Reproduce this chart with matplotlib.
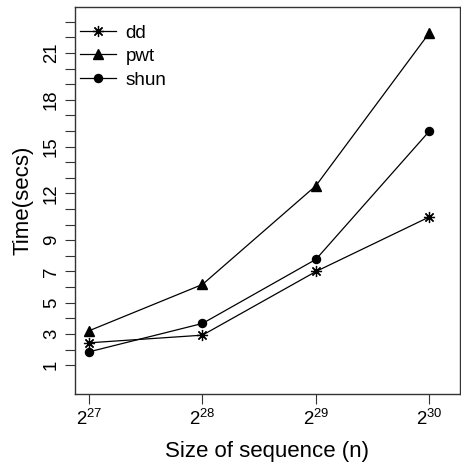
import matplotlib
matplotlib.use("Agg")
import matplotlib.pyplot as plt

plt.rcParams["font.family"] = ["Liberation Sans", "DejaVu Sans"]
plt.rcParams["mathtext.fontset"] = "custom"
plt.rcParams["mathtext.rm"] = "Liberation Sans"
plt.rcParams["mathtext.it"] = "Liberation Sans"

# dados
x_pow = [27, 28, 29, 30]
x_labels = [r"$2^{27}$", r"$2^{28}$", r"$2^{29}$", r"$2^{30}$"]
dd = [2.43, 2.92, 7.0, 10.5]
pwt = [3.2, 6.17, 12.5, 22.3]
shun = [1.85, 3.67, 7.78, 16.0]
y_ticks = list(range(1, 24))
y_labeled = [1, 3, 5, 7, 9, 12, 15, 18, 21]

fig = plt.figure(figsize=(4.61, 4.67), dpi=100)
ax = fig.add_axes([0.162, 0.156, 0.836, 0.829])

ax.plot(x_pow, dd, color="black", lw=0.9, marker=(8, 2, 0), ms=8, mew=0.9, label="dd")
ax.plot(x_pow, pwt, color="black", lw=0.9, marker="^", ms=7, label="pwt")
ax.plot(x_pow, shun, color="black", lw=0.9, marker="o", ms=5.8, label="shun")

ax.set_xlim(26.874, 30.27)
ax.set_ylim(-0.86, 23.95)

ax.set_xticks(x_pow)
ax.set_xticklabels(x_labels, fontsize=13.4)
ax.set_yticks(y_ticks)
ax.set_yticklabels([str(v) if v in y_labeled else "" for v in y_ticks],
                   fontsize=13.4, rotation=90, va="center")
ax.tick_params(direction="out", length=7, width=0.8, color="#333333")

for s in ax.spines.values():
    s.set_linewidth(1.0)
    s.set_color("#333333")

ax.set_xlabel("Size of sequence (n)", fontsize=16, labelpad=9)
ax.set_ylabel("Time(secs)", fontsize=16, labelpad=7)

# legenda sem moldura no canto superior esquerdo
ax.legend(loc="upper left", frameon=False, fontsize=13.6, handlelength=1.9,
          handletextpad=0.5, borderpad=0, borderaxespad=0,
          bbox_to_anchor=(0.014, 0.955), labelspacing=0.33)

fig.savefig("out.png", dpi=100)
